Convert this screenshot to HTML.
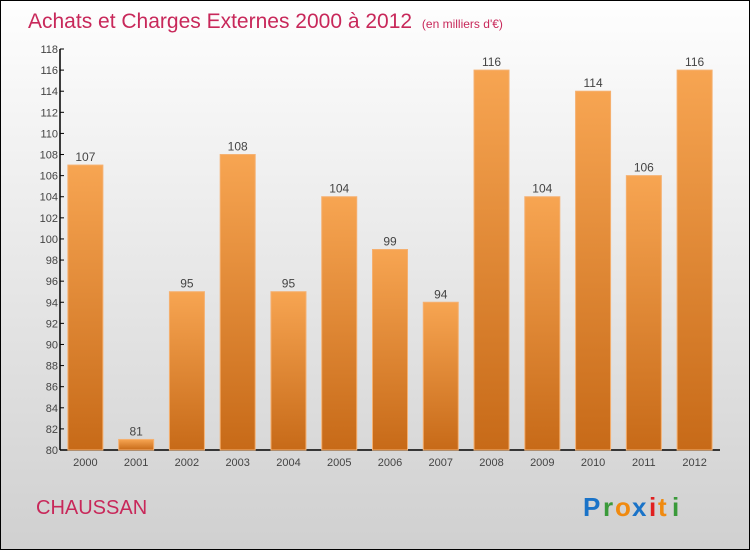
<!DOCTYPE html>
<html><head><meta charset="utf-8">
<style>
html,body{margin:0;padding:0}
body{width:750px;height:550px;overflow:hidden;font-family:"Liberation Sans",sans-serif}
#wrap{position:relative;width:748px;height:548px;border:1px solid #000;background:linear-gradient(#fefefe,#d0d0d0)}
</style></head><body>
<div id="wrap">
<svg id="chart" width="748" height="548">
<defs>
<linearGradient id="bg" x1="0" y1="0" x2="0" y2="1">
<stop offset="0" stop-color="#f7a552"/><stop offset="1" stop-color="#c76a18"/>
</linearGradient>
</defs>
<text x="27" y="27" font-size="21" fill="#c8285a">Achats et Charges Externes 2000 à 2012 <tspan font-size="12" dx="4">(en milliers d'€)</tspan></text>
<g id="axes"></g>
<g id="bars"></g>
<text x="35" y="513" font-size="20" fill="#c8285a">CHAUSSAN</text>
<g font-size="26" font-weight="bold" font-family="'Liberation Sans',sans-serif">
<text x="582" y="515" fill="#1a73c8">P</text><text x="602" y="515" fill="#3a9a3a">r</text><text x="614" y="515" fill="#f08a10">o</text><text x="631" y="515" fill="#1a73c8">x</text><text x="648" y="515" fill="#e02020">i</text><text x="657" y="515" fill="#f08a10">t</text><text x="671" y="515" fill="#3a9a3a">i</text>
</g>
</svg>
</div>
<script>
const categories=["2000","2001","2002","2003","2004","2005","2006","2007","2008","2009","2010","2011","2012"];
const values=[107,81,95,108,95,104,99,94,116,104,114,106,116];
const yTicks=[80,82,84,86,88,90,92,94,96,98,100,102,104,106,108,110,112,114,116,118];
const NS="http://www.w3.org/2000/svg";
const x0=59,x1=719,yTop=48,yBot=449,yMin=80,yMax=118;
const step=(x1-x0)/categories.length;
const xC=i=>x0+step*(i+0.5);
const yS=v=>yBot-(v-yMin)/(yMax-yMin)*(yBot-yTop);
function mk(t,a,p){const e=document.createElementNS(NS,t);for(const k in a)e.setAttribute(k,a[k]);p.appendChild(e);return e;}
const ax=document.getElementById('axes'),bs=document.getElementById('bars');
const yl=mk('line',{x1:x0,y1:yTop,x2:x0,y2:yBot,stroke:'#000','stroke-width':1.5},ax);


const xl=mk('line',{x1:x0,y1:yBot,x2:x1,y2:yBot,stroke:'#000','stroke-width':1.5},ax);


yTicks.forEach(v=>{
 mk('line',{x1:x0,y1:yS(v),x2:x0+4,y2:yS(v),stroke:'#000'},ax);
 const t=mk('text',{x:x0-2,y:yS(v)+4,'font-size':11,'text-anchor':'end',fill:'#444'},ax);
 t.textContent=v;
 
 
});
categories.forEach((c,i)=>{
 const w=35,x=xC(i)-w/2,y=yS(values[i]);
 const r=mk('rect',{x:x,y:y,width:w,height:yBot-y,fill:'url(#bg)',stroke:'#f5b070','stroke-width':1},bs);
 
 
 const l=mk('text',{x:xC(i),y:y-4,'font-size':12,'text-anchor':'middle',fill:'#444'},bs);
 l.textContent=values[i];
 
 
 const t=mk('text',{x:xC(i),y:yBot+16,'font-size':11,'text-anchor':'middle',fill:'#444'},ax);
 t.textContent=c;
 
 
});
</script>
</body></html>
